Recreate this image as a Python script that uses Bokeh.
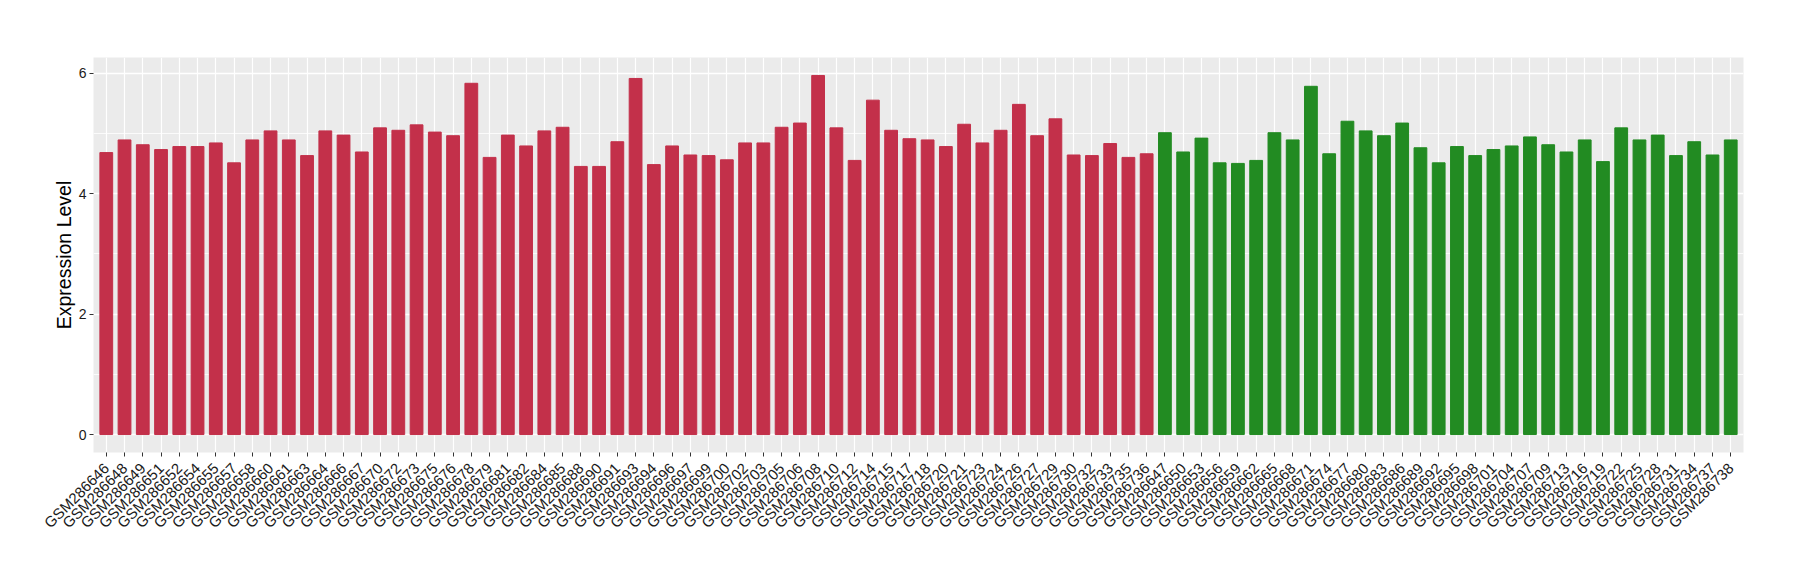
import math
from bokeh.plotting import figure
from bokeh.models import FactorRange, Range1d, FixedTicker, ColumnDataSource
from bokeh.embed import file_html
from bokeh.resources import INLINE

group_a_ids = [646, 648, 649, 651, 652, 654, 655, 657, 658, 660, 661, 663, 664, 666, 667,
               670, 672, 673, 675, 676, 678, 679, 681, 682, 684, 685, 688, 690, 691, 693,
               694, 696, 697, 699, 700, 702, 703, 705, 706, 708, 710, 712, 714, 715, 717,
               718, 720, 721, 723, 724, 726, 727, 729, 730, 732, 733, 735, 736]
group_a_values = [4.68, 4.89, 4.81, 4.73, 4.78, 4.78, 4.84, 4.51, 4.89, 5.04, 4.89, 4.63, 5.04, 4.97, 4.69,
                  5.09, 5.05, 5.14, 5.02, 4.96, 5.83, 4.60, 4.97, 4.79, 5.04, 5.10, 4.45, 4.45, 4.86, 5.91,
                  4.48, 4.79, 4.64, 4.63, 4.56, 4.84, 4.84, 5.10, 5.17, 5.96, 5.09, 4.55, 5.55, 5.05, 4.91,
                  4.89, 4.78, 5.15, 4.84, 5.05, 5.48, 4.96, 5.24, 4.64, 4.63, 4.83, 4.60, 4.66]
group_b_ids = [647, 650, 653, 656, 659, 662, 665, 668, 671, 674, 677, 680, 683, 686, 689, 692,
               695, 698, 701, 704, 707, 709, 713, 716, 719, 722, 725, 728, 731, 734, 737, 738]
group_b_values = [5.01, 4.69, 4.92, 4.51, 4.50, 4.55, 5.01, 4.89, 5.78, 4.66, 5.20, 5.04, 4.96, 5.17, 4.76, 4.51,
                  4.78, 4.63, 4.73, 4.79, 4.94, 4.81, 4.69, 4.89, 4.53, 5.09, 4.89, 4.97, 4.63, 4.86, 4.64, 4.89]

color_a = "#C3304A"
color_b = "#228B22"

samples = ["GSM" + str(286000 + i) for i in group_a_ids] + ["GSM" + str(286000 + i) for i in group_b_ids]
values = group_a_values + group_b_values
colors = [color_a] * len(group_a_ids) + [color_b] * len(group_b_ids)

src = ColumnDataSource(dict(x=samples, top=values, color=colors))

vmax = max(values)
pad = vmax * 0.05

p = figure(width=1784, height=564, output_backend="svg", toolbar_location=None,
           x_range=FactorRange(factors=samples, range_padding=0.2, range_padding_units="absolute"),
           y_range=Range1d(-pad, vmax + pad),
           min_border_left=93, min_border_right=41, min_border_top=57, min_border_bottom=112)

p.vbar(x="x", top="top", bottom=0, width=0.7, color="color", source=src)

p.background_fill_color = "#EBEBEB"
p.border_fill_color = "white"
p.outline_line_color = None

p.xgrid.grid_line_color = "white"
p.xgrid.grid_line_width = 1.2
p.ygrid.grid_line_color = "white"
p.ygrid.grid_line_width = 1.5
p.ygrid.minor_grid_line_color = "white"
p.ygrid.minor_grid_line_width = 0.8

p.yaxis.ticker = FixedTicker(ticks=[0, 2, 4, 6], minor_ticks=[1, 3, 5])
p.yaxis.axis_label = "Expression Level"
p.yaxis.axis_label_text_font = "Liberation Sans"
p.yaxis.axis_label_text_font_size = "19.5px"
p.yaxis.axis_label_text_font_style = "normal"
p.yaxis.axis_label_text_color = "black"
p.yaxis.axis_label_standoff = 1

for ax in (p.xaxis, p.yaxis):
    ax.axis_line_color = None
    ax.major_tick_line_color = "#333333"
    ax.major_tick_out = 4
    ax.major_tick_in = 0
    ax.minor_tick_line_color = None
    ax.major_label_text_font = "Liberation Sans"
    ax.major_label_text_color = "#1A1A1A"

p.yaxis.major_label_standoff = 3
p.xaxis.major_label_standoff = 9
p.yaxis.major_label_text_font_size = "14px"
p.xaxis.major_label_text_font_size = "15px"
p.xaxis.major_label_orientation = math.pi / 4

open("out.html", "w").write(file_html(p, INLINE))
